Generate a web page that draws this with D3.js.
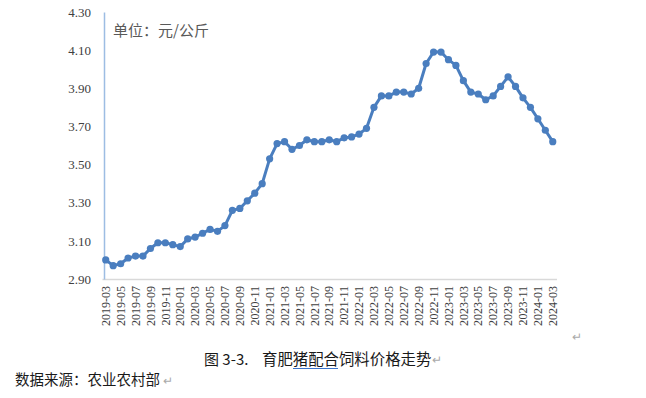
<!DOCTYPE html>
<html>
<head>
<meta charset="utf-8">
<script src="https://cdn.jsdelivr.net/npm/d3@7"></script>
<style>
  body { margin:0; background:#fff; }
  svg { display:block; }
</style>
</head>
<body>
<svg id="chart" width="646" height="398"></svg>
<script>
// months 2019-03 .. 2024-03
var months = [];
for (var yr = 2019; yr <= 2024; yr++) {
  for (var mo = 1; mo <= 12; mo++) {
    if (yr == 2019 && mo < 3) continue;
    if (yr == 2024 && mo > 3) break;
    months.push(yr + "-" + (mo < 10 ? "0" + mo : mo));
  }
}

var prices = [3.00,2.97,2.98,3.01,3.02,3.02,3.06,3.09,3.09,3.08,3.07,3.11,
  3.12,3.14,3.16,3.15,3.18,3.26,3.27,3.31,3.35,3.40,3.53,3.61,
  3.62,3.58,3.60,3.63,3.62,3.62,3.63,3.62,3.64,3.645,3.66,3.69,
  3.80,3.86,3.86,3.88,3.88,3.87,3.90,4.03,4.09,4.09,4.05,4.02,
  3.94,3.88,3.87,3.84,3.86,3.91,3.96,3.91,3.85,3.80,3.74,3.68,3.62];

var yTicks = [2.90,3.10,3.30,3.50,3.70,3.90,4.10,4.30];
var xTickLabels = months.filter(function(d, i){ return i % 2 == 0; });

var unitText = "单位：元/公斤";
var captionNum = "图 3-3.";
var captionText = "育肥猪配合饲料价格走势";
var sourceText = "数据来源：农业农村部";

var serif = "Times New Roman, Liberation Serif, DejaVu Serif, serif";
var cjk = "Noto Sans CJK SC, sans-serif";

var svg = d3.select("#chart");

var x = d3.scaleBand().domain(months).range([102, 556.5]).padding(0);
var y = d3.scaleLinear().domain([2.9, 4.3]).range([279, 12]);
var cx = function(d){ return x(d) + x.bandwidth()/2; };

// bottom axis
var xAxis = d3.axisBottom(x).tickValues(xTickLabels).tickSize(0).tickPadding(6);
var gx = svg.append("g").attr("transform", "translate(0,279)").call(xAxis)
  .attr("font-family", serif).attr("font-size", 12);
gx.select(".domain").attr("stroke", "#d9d9d9").attr("stroke-width", 1.5);
gx.selectAll("text")
  .attr("transform", "rotate(-90)")
  .attr("text-anchor", "end")
  .attr("x", -7)
  .attr("y", 0)
  .attr("dy", "0.35em")
  .attr("fill", "#404040");

// left axis
var yAxis = d3.axisLeft(y).tickValues(yTicks).tickFormat(d3.format(".2f")).tickSize(0).tickPadding(13);
var gy = svg.append("g").attr("transform", "translate(104,0)").call(yAxis)
  .attr("font-family", serif).attr("font-size", 13);
gy.select(".domain").attr("stroke", "#9dbde3").attr("stroke-width", 1.5);
gy.selectAll("text").attr("fill", "#404040");

// line + markers
var line = d3.line()
  .x(function(d, i){ return cx(months[i]); })
  .y(function(d){ return y(d); });

svg.append("path")
  .datum(prices)
  .attr("d", line)
  .attr("fill", "none")
  .attr("stroke", "#4a7ebf")
  .attr("stroke-width", 3)
  .attr("stroke-linejoin", "round");

svg.selectAll(".dot")
  .data(prices)
  .enter().append("circle")
  .attr("class", "dot")
  .attr("cx", function(d, i){ return cx(months[i]); })
  .attr("cy", function(d){ return y(d); })
  .attr("r", 3.6)
  .attr("fill", "#4a7ebf");

// unit label
svg.append("text")
  .attr("x", 113).attr("y", 36)
  .attr("font-family", cjk)
  .attr("font-size", 15)
  .attr("fill", "#595959")
  .text(unitText);

// caption
svg.append("text")
  .attr("x", 204).attr("y", 364.5)
  .attr("font-family", cjk)
  .attr("font-size", 15)
  .attr("fill", "#1a1a1a")
  .text(captionNum);
svg.append("text")
  .attr("x", 262).attr("y", 364.5)
  .attr("font-family", cjk)
  .attr("font-size", 15.4)
  .attr("fill", "#1a1a1a")
  .text(captionText);
svg.append("line")
  .attr("x1", 293).attr("x2", 338).attr("y1", 368.5).attr("y2", 368.5)
  .attr("stroke", "#3b73c9").attr("stroke-width", 1);
svg.append("text")
  .attr("x", 432).attr("y", 364)
  .attr("font-size", 12).attr("fill", "#aaa").text("↵");

// source
svg.append("text")
  .attr("x", 15).attr("y", 385)
  .attr("font-family", cjk)
  .attr("font-size", 14.5)
  .attr("fill", "#1a1a1a")
  .text(sourceText);
svg.append("text")
  .attr("x", 163).attr("y", 385)
  .attr("font-size", 12).attr("fill", "#aaa").text("↵");

// stray paragraph mark
svg.append("text")
  .attr("x", 572).attr("y", 341)
  .attr("font-size", 12).attr("fill", "#aaa").text("↵");
</script>
</body>
</html>
